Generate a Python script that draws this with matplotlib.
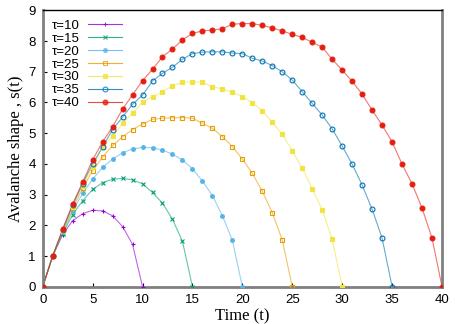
import numpy as np
import matplotlib
matplotlib.use("Agg")
import matplotlib.pyplot as plt

# avalanche shape s(t) for each duration tau, read at t = 0, 1, 2, ...
tau10 = [0, 1.0, 1.70, 2.15, 2.38, 2.49, 2.47, 2.31, 1.96, 1.38, 0]
tau15 = [0, 1.0, 1.73, 2.35, 2.80, 3.17, 3.39, 3.50, 3.53, 3.48, 3.35, 3.07, 2.72, 2.20, 1.48, 0]
tau20 = [0, 1.0, 1.78, 2.47, 3.04, 3.50, 3.89, 4.16, 4.36, 4.49, 4.54, 4.53, 4.45, 4.32, 4.13,
         3.84, 3.44, 2.97, 2.31, 1.51, 0]
tau25 = [0, 1.0, 1.80, 2.55, 3.20, 3.78, 4.22, 4.60, 4.88, 5.12, 5.30, 5.45, 5.49, 5.50, 5.51,
         5.49, 5.32, 5.16, 4.89, 4.56, 4.16, 3.69, 3.11, 2.41, 1.52, 0]
tau30 = [0, 1.0, 1.82, 2.60, 3.28, 3.90, 4.55, 4.90, 5.32, 5.65, 6.01, 6.19, 6.35, 6.54, 6.66,
         6.68, 6.66, 6.51, 6.44, 6.34, 6.19, 5.99, 5.72, 5.36, 4.96, 4.43, 3.86, 3.19, 2.50, 1.54, 0]
tau35 = [0, 1.0, 1.85, 2.65, 3.36, 4.00, 4.55, 5.12, 5.52, 5.94, 6.24, 6.70, 6.95, 7.15, 7.41,
         7.59, 7.64, 7.65, 7.65, 7.61, 7.59, 7.44, 7.35, 7.20, 7.00, 6.73, 6.35, 5.97, 5.59, 5.14,
         4.58, 3.99, 3.31, 2.52, 1.58, 0]
tau40 = [0, 1.0, 1.88, 2.70, 3.40, 4.13, 4.72, 5.21, 5.78, 6.25, 6.71, 7.08, 7.49, 7.74, 8.04,
         8.25, 8.33, 8.36, 8.40, 8.55, 8.57, 8.57, 8.51, 8.43, 8.33, 8.22, 8.12, 7.96, 7.80, 7.41,
         7.05, 6.69, 6.27, 5.75, 5.26, 4.72, 3.99, 3.35, 2.56, 1.58, 0]

labels = ["τ=10", "τ=15", "τ=20", "τ=25", "τ=30", "τ=35", "τ=40"]
series = [tau10, tau15, tau20, tau25, tau30, tau35, tau40]
colors = ["#9400d3", "#009e73", "#56b4e9", "#e69f00", "#f0e442", "#0072b2", "#e51e10"]
markers = ["+", "x", (8, 2, 0), "s", "s", "o", "o"]
filled = [True, True, True, False, True, False, True]

fig = plt.figure(figsize=(4.63, 3.24), dpi=100)
ax = fig.add_axes([0.0922, 0.115, 0.8625, 0.853])

for lab, s, c, m, f in zip(labels, series, colors, markers, filled):
    t = np.arange(len(s))
    ax.plot(t, s, color=c, alpha=0.6, lw=0.8, zorder=2)
    ax.plot(t, s, ls="none", marker=m, ms=3.5, mew=0.8,
            mec=c, mfc=c if f else "none", zorder=3)
    # legend handle
    ax.plot([], [], color=c, lw=0.8, alpha=0.8, marker=m, ms=3.5, mew=0.8,
            mec=c, mfc=c if f else "none", label=lab)

ax.set_xlim(0, 40)
ax.set_ylim(0, 9)
ax.set_xticks(np.arange(0, 41, 5))
ax.set_yticks(np.arange(0, 10, 1))
ax.tick_params(direction="in", length=3, width=0.8, labelsize=9.5, pad=5)
for lab in ax.get_xticklabels() + ax.get_yticklabels():
    lab.set_family("Liberation Sans")

for side in ["left", "bottom", "right"]:
    ax.spines[side].set_color("#808080")
    ax.spines[side].set_linewidth(2)
ax.spines["top"].set_color("black")
ax.spines["top"].set_linewidth(1)

ax.set_xlabel("Time (t)", family="Liberation Serif", fontsize=12, labelpad=2)
ax.set_ylabel("Avalanche shape , s(t)", family="Liberation Serif", fontsize=12, labelpad=3)

leg = ax.legend(loc="upper left", frameon=False, markerfirst=False,
                prop={"family": "Liberation Sans", "size": 9.5},
                handlelength=2.6, handletextpad=0.6, labelspacing=0.05,
                borderaxespad=0.3, bbox_to_anchor=(0.0, 1.0))

fig.savefig("out.png", dpi=100)
